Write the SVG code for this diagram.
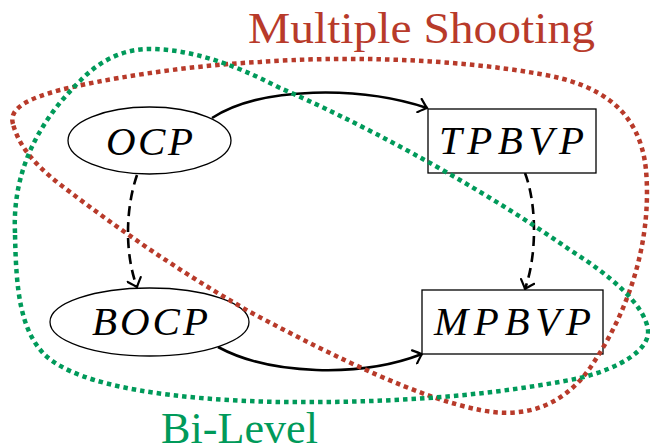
<svg xmlns="http://www.w3.org/2000/svg" width="650" height="448" viewBox="0 0 650 448">
<style>
.node{fill:#fff;stroke:#000;stroke-width:1.3}
.math{font-family:"Liberation Serif",serif;font-style:italic;font-size:41px;fill:#000}
.lbl{font-family:"Liberation Serif",serif;font-size:45px}
.edge{fill:none;stroke:#000;stroke-width:2.6}
.dash{stroke-dasharray:10 6}
.set{fill:none;stroke-width:4.5;stroke-dasharray:4.5 4}
</style>
<defs>
<marker id="arr" viewBox="-10 -8 12 16" refX="0" refY="0" markerWidth="12" markerHeight="16" markerUnits="userSpaceOnUse" orient="auto">
<path d="M -8,-7 Q -2,-1.5 0,0 Q -2,1.5 -8,7" fill="none" stroke="#000" stroke-width="2.2" stroke-linecap="round"/>
</marker>
</defs>
<g id="edges">
<path class="edge" d="M 212,118 C 262,86 360,86 427,108" marker-end="url(#arr)"/>
<path class="edge" d="M 218,347 C 270,375 360,378 422,354" marker-end="url(#arr)"/>
<path class="edge dash" d="M 137,175 C 125,210 125,255 137,287" marker-end="url(#arr)"/>
<path class="edge dash" d="M 525,173 C 537,205 537,255 525,289" marker-end="url(#arr)"/>
</g>
<g id="OCP">
<ellipse class="node" cx="149.5" cy="140.5" rx="81.5" ry="33.5"/>
<text class="math" x="106" y="155" textLength="87" lengthAdjust="spacing">OCP</text>
</g>
<g id="TPBVP">
<rect class="node" x="428" y="109" width="168" height="64"/>
<text class="math" x="439" y="154" textLength="145" lengthAdjust="spacing">TPBVP</text>
</g>
<g id="BOCP">
<ellipse class="node" cx="149.5" cy="322" rx="99.5" ry="34"/>
<text class="math" x="92" y="335" textLength="116" lengthAdjust="spacing">BOCP</text>
</g>
<g id="MPBVP">
<rect class="node" x="422" y="290" width="181" height="64"/>
<text class="math" x="434" y="335" textLength="157" lengthAdjust="spacing">MPBVP</text>
</g>
<g id="multiple-shooting">
<path class="set" stroke="#b83a2a" d="M 13,124 C 8,108 30,98 60,90 C 100,80 180,66 260,62 C 340,56 450,58 540,74 C 600,84 640,110 646,170 C 652,240 630,310 590,368 C 560,410 520,418 480,410 C 420,398 340,360 250,312 C 180,272 120,230 70,192 C 40,170 20,150 13,124 Z"/>
<text class="lbl" fill="#b83a2a" x="248" y="43" textLength="347" lengthAdjust="spacingAndGlyphs">Multiple Shooting</text>
</g>
<g id="bi-level">
<path class="set" stroke="#009a5a" d="M 15,233 C 12,170 40,120 80,81 C 100,60 125,48 153,49 C 190,50 230,62 280,88 C 350,118 470,180 570,250 C 610,275 645,305 648,330 C 650,350 620,368 580,378 C 480,398 380,403 280,402 C 180,400 80,388 45,355 C 20,330 16,290 15,233 Z"/>
<text class="lbl" fill="#009a5a" x="161" y="443" textLength="157" lengthAdjust="spacingAndGlyphs">Bi-Level</text>
</g>
</svg>
